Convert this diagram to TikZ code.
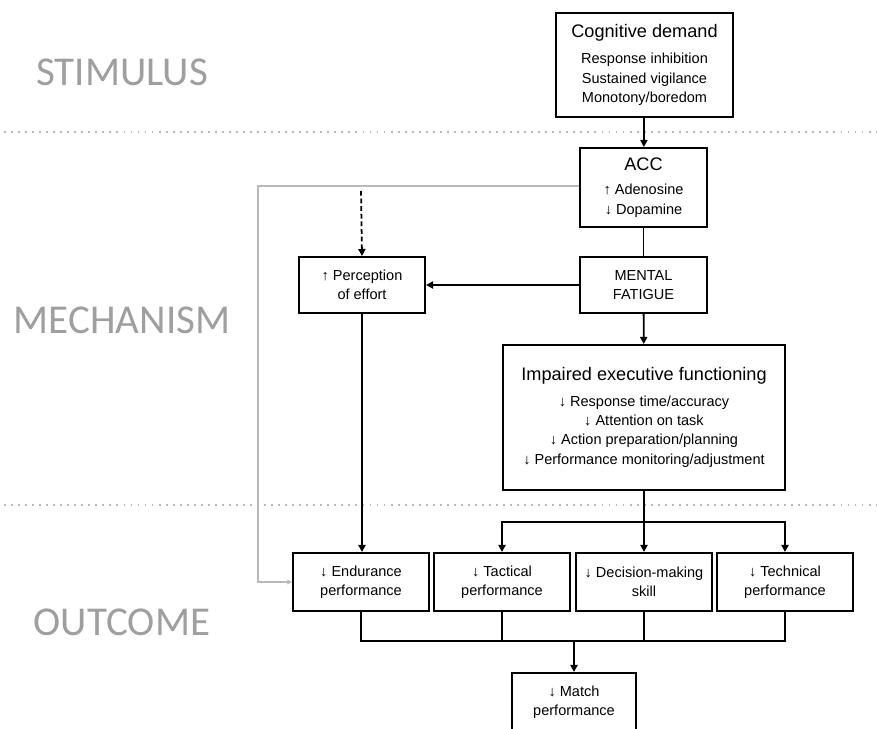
\documentclass[tikz,border=0pt]{standalone}
\usepackage{fontspec}
\setmainfont{Liberation Sans}
\newfontfamily\sectfont{Carlito}
\usetikzlibrary{arrows.meta}
\newcommand{\hd}[1]{{\fontsize{15.5}{18}\selectfont #1}}
\tikzset{
  box/.style={draw, line width=1.7pt, align=center, inner sep=0pt,
    font=\fontsize{12.4}{16.5}\selectfont},
  wh/.style 2 args={minimum width=#1*0.03cm, minimum height=#2*0.03cm},
  sect/.style={text=gray!75, font=\sectfont\fontsize{35}{40}\selectfont},
  sep/.style={gray!55, line width=1.6pt, dash pattern=on 1.6pt off 4.4pt},
  link/.style={line width=1.5pt},
  back/.style={gray!55, line width=0.9pt, -{Triangle[length=4pt,width=4pt]}}
}
\begin{document}
\begin{tikzpicture}[x=0.03cm, y=-0.03cm, >={Triangle[length=6pt,width=6pt]}]
  \useasboundingbox (0,0) rectangle (877,728);
  \draw[sep] (4,132) -- (877,132);
  \draw[sep] (4,505) -- (877,505);
  \foreach \n/\y/\t in{S/72/STIMULUS, M/320/MECHANISM, O/622/OUTCOME}{
    \node[sect](L\n) at (122,\y) {\t};
  }
  \node[box, wh={177}{104}](cog) at (644.5,65)
    {\hd{Cognitive demand}\\[6pt]Response inhibition\\Sustained vigilance\\Monotony/boredom};
  \node[box, wh={127}{79}](acc) at (643.5,187.5)
    {\hd{ACC}\\[4pt]↑ Adenosine\\↓ Dopamine};
  \node[box, wh={127}{56}](mf) at (643.5,285)
    {MENTAL\\FATIGUE};
  \node[box, wh={126}{56}](poe) at (362,285)
    {↑ Perception\\of effort};
  \node[box, wh={282}{145}](ief) at (644,417.5)
    {\hd{Impaired executive functioning}\\[5pt]↓ Response time/accuracy\\↓ Attention on task\\
     ↓ Action preparation/planning\\↓ Performance monitoring/adjustment};
  \foreach \n/\x/\a/\b in{end/361/Endurance/performance, tac/502/Tactical/performance,
      dec/644/Decision-making/skill, tec/785/Technical/performance}{
    \node[box, wh={136}{58}](\n) at (\x,582) {↓ \a\\\b};
  }
  \node[box, wh={124}{58}](mat) at (574,702)
    {↓ Match\\performance};
  \coordinate (bus) at (644,522);
  \coordinate (sink) at (574,641);
  \coordinate (gl) at (258,186);
  \coordinate (ds) at (361,191);
  \draw[link,->] (cog) -- (acc);
  \draw[link] (acc) -- (mf);
  \draw[link,->] (mf) -- (poe);
  \draw[link,->] (mf) -- (ief);
  \draw[link,->] (poe.south) -- (poe.south |- end.north);
  \draw[link,->] (ief.south) -- (dec.north);
  \draw[link,->] (bus) -| (tac.north);
  \draw[link,->] (bus) -| (tec.north);
  \draw[link] (end.south) |- (tec.south |- sink) -- (tec.south);
  \foreach \n in{tac,dec}{
    \draw[link] (\n.south) -- (\n.south |- sink);
  }
  \draw[link,->] (sink) -- (mat.north);
  \draw[link,->, dash pattern=on 4pt off 2.5pt] (ds) -- (poe.north);
  \draw[back] (acc.west |- gl) -- (gl) |- (end.west);
\end{tikzpicture}
\end{document}
